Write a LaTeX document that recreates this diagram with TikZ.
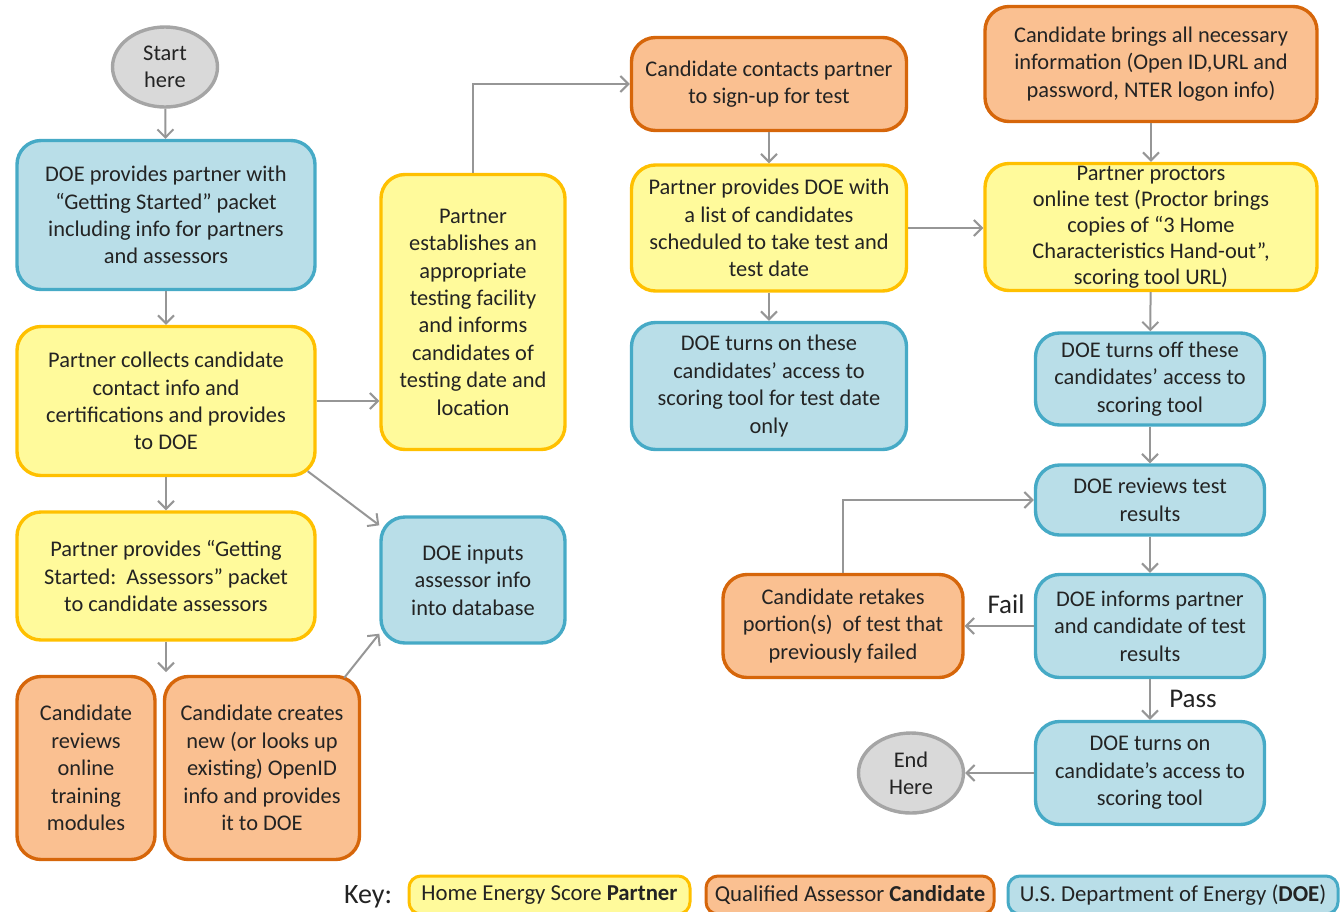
\documentclass[tikz,border=0pt]{standalone}
\usepackage{fontspec}
\setmainfont{Carlito}
\usetikzlibrary{calc,arrows.meta,shapes.geometric}

\definecolor{partnerfill}{RGB}{255,250,155}
\definecolor{partnerdraw}{RGB}{255,192,0}
\definecolor{candfill}{RGB}{250,192,145}
\definecolor{canddraw}{RGB}{214,102,10}
\definecolor{doefill}{RGB}{185,222,232}
\definecolor{doedraw}{RGB}{70,170,198}
\definecolor{termfill}{RGB}{217,217,217}
\definecolor{termdraw}{RGB}{165,165,165}
\definecolor{arrowgray}{RGB}{150,150,150}
\definecolor{inkgray}{RGB}{35,35,35}

\begin{document}
\begin{tikzpicture}[x=0.5pt,y=-0.5pt,text=inkgray]
 \tikzstyle{arrow} = [-{Straight Barb[length=4pt,width=8pt]},draw=arrowgray,line width=1pt];
 \tikzstyle{box} = [rectangle,rounded corners=12pt,line width=1.7pt,align=center,inner sep=2pt,
                    font=\fontsize{11.2}{13.7}\selectfont];
 \tikzstyle{partner} = [box,draw=partnerdraw,fill=partnerfill];
 \tikzstyle{candidate} = [box,draw=canddraw,fill=candfill];
 \tikzstyle{doe} = [box,draw=doedraw,fill=doefill];
 \tikzstyle{terminal} = [ellipse,draw=termdraw,fill=termfill,line width=1.7pt,inner sep=0pt,
                         minimum width=52.5pt,minimum height=40pt,align=center,
                         font=\fontsize{11.2}{13.7}\selectfont];
 \tikzstyle{keybox} = [rectangle,rounded corners=6pt,line width=1.5pt,minimum height=19pt,
                       font=\fontsize{11.4}{13}\selectfont];
 \tikzstyle{result} = [font=\fontsize{13.5}{15}\selectfont];

 \useasboundingbox (0,0) rectangle (1344,911);
 \clip (0,0) rectangle (1344,911);

 %% column 1
 \node[terminal] (start) at (165,67) {Start\\here};
 \node[doe, minimum width=149pt, minimum height=74.5pt] (doe1) at (166,215)
   {DOE provides partner with\\“Getting Started” packet\\including info for partners\\and assessors};
 \node[partner, minimum width=149pt, minimum height=74.5pt] (part1) at (166,401)
   {Partner collects candidate\\contact info and\\certifications and provides\\to DOE};
 \node[partner, minimum width=149pt, minimum height=64pt] (part2) at (166,576)
   {Partner provides “Getting\\Started:\ \ Assessors” packet\\to candidate assessors};
 \node[candidate, minimum width=69pt, minimum height=91.5pt] (cand1) at (86,768)
   {Candidate\\reviews\\online\\training\\modules};
 \node[candidate, minimum width=97.5pt, minimum height=91.5pt] (cand2) at (262,768)
   {Candidate creates\\new (or looks up\\existing) OpenID\\info and provides\\it to DOE};
 \coordinate (gap) at (166,672);

 %% column 2
 \node[partner, minimum width=92pt, minimum height=137.5pt] (part3) at (473,312)
   {Partner\\establishes an\\appropriate\\testing facility\\and informs\\candidates of\\testing date and\\location};
 \node[doe, minimum width=92pt, minimum height=63pt] (doe2) at (473,580)
   {DOE inputs\\assessor info\\into database};

 %% column 3
 \node[candidate, minimum width=137.5pt, minimum height=46.5pt] (cand3) at (769,84)
   {Candidate contacts partner\\to sign-up for test};
 \node[partner, minimum width=137.5pt, minimum height=63pt] (part4) at (769,228)
   {Partner provides DOE with\\a list of candidates\\scheduled to take test and\\test date};
 \node[doe, minimum width=137.5pt, minimum height=63.5pt] (doe3) at (769,386)
   {DOE turns on these\\candidates’ access to\\scoring tool for test date\\only};

 %% column 4
 \node[candidate, minimum width=166pt, minimum height=57.5pt] (cand4) at (1151,64)
   {Candidate brings all necessary\\information (Open ID,URL and\\password,\ NTER logon info)};
 \node[partner, minimum width=166pt, minimum height=63.5pt, inner ysep=0pt,
       font=\fontsize{11.2}{13}\selectfont] (part5) at (1151,227)
   {Partner proctors\\online test (Proctor brings\\copies of “3 Home\\Characteristics Hand-out”,\\scoring tool\ URL)};
 \node[doe, minimum width=114.5pt, minimum height=46pt] (doe4) at (1150,379)
   {DOE turns off these\\candidates’ access to\\scoring tool};
 \node[doe, minimum width=114.5pt, minimum height=35pt] (doe5) at (1150,500)
   {DOE reviews test\\results};
 \node[doe, minimum width=114.5pt, minimum height=51.5pt] (doe6) at (1150,626)
   {DOE informs partner\\and candidate of test\\results};
 \node[candidate, minimum width=120pt, minimum height=51.5pt] (cand5) at (843,626)
   {Candidate retakes\\portion(s)\ \ of test that\\previously failed};
 \node[doe, minimum width=114.5pt, minimum height=51.5pt] (doe7) at (1150,773)
   {DOE turns on\\candidate’s access to\\scoring tool};
 \node[terminal] (end) at (911,773) {End\\Here};

 %% connectors
 \draw[arrow] (start) -- (doe1);
 \draw[arrow] (doe1) -- (part1);
 \draw[arrow] (part1) -- (part2);
 \draw[arrow] (part2) -- (gap);
 \draw[arrow] (part1.east) -- (part1.east -| part3.west);
 \draw[arrow] ($(part1.south east)+(-9,-6)$) -- ($(doe2.north west)+(0,10)$);
 \draw[arrow] ($(cand2.north east)+(-17,3)$) -- ($(doe2.south west)+(0,-11)$);
 \draw[arrow] (part3.north) |- (cand3.west);
 \draw[arrow] (cand3) -- (part4);
 \draw[arrow] (part4) -- (doe3);
 \draw[arrow] (part4.east) -- (part4.east -| part5.west);
 \draw[arrow] (cand4) -- (part5);
 \draw[arrow] (part5) -- (doe4);
 \draw[arrow] (doe4) -- (doe5);
 \draw[arrow] (doe5) -- (doe6);
 \draw[arrow] (doe6.west) -- (cand5.east);
 \draw[arrow] (cand5.north) |- (doe5.west);
 \draw[arrow] (doe6) -- (doe7);
 \draw[arrow] (doe7.west) -- (end.east);
 \node[result] (fail) at (1006,604) {Fail};
 \node[result] (pass) at (1193,699) {Pass};

 %% key
 \node[result, font=\fontsize{14}{16}\selectfont] (key) at (368,897) {Key:};
 \node[keybox, draw=partnerdraw, fill=partnerfill, minimum width=140.5pt] (keyp) at (549.5,895)
   {Home Energy Score \textbf{Partner}};
 \node[keybox, draw=canddraw, fill=candfill, minimum width=144pt] (keyc) at (850,895)
   {Qualified Assessor\ \textbf{Candidate}};
 \node[keybox, draw=doedraw, fill=doefill, minimum width=165pt] (keyd) at (1173,895)
   {U.S. Department of Energy (\textbf{DOE})};
\end{tikzpicture}
\end{document}
